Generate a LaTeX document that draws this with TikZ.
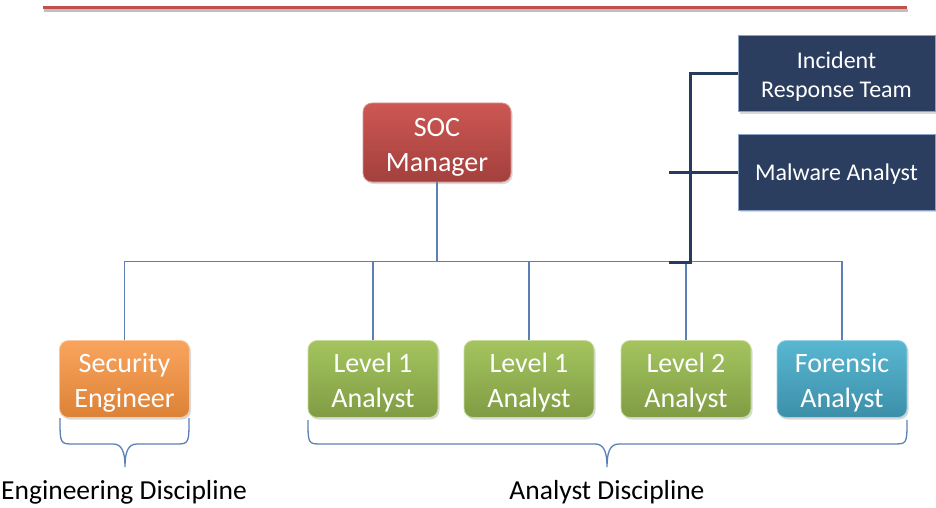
\documentclass[tikz,border=0pt]{standalone}
\usepackage{fontspec}
\setmainfont{Carlito}
\usetikzlibrary{shadows}
\definecolor{socred}{HTML}{C0504D}
\definecolor{socredT}{HTML}{CD5753}
\definecolor{socredB}{HTML}{A3403D}
\definecolor{orT}{HTML}{F9A45E}
\definecolor{orB}{HTML}{DC8236}
\definecolor{grT}{HTML}{A5C45F}
\definecolor{grB}{HTML}{7F9C44}
\definecolor{blT}{HTML}{58B7D2}
\definecolor{blB}{HTML}{3D8FA8}
\definecolor{navy}{HTML}{2C3E5F}
\definecolor{navyedge}{HTML}{8AA2C8}
\definecolor{conn}{HTML}{5A80B5}
\definecolor{darkconn}{HTML}{243C5E}
\tikzset{
  box/.style={rectangle, rounded corners=9pt, minimum width=130pt, minimum height=77pt,
    inner sep=0pt, line width=0.8pt,
    drop shadow={opacity=0.3, shadow xshift=1.5pt, shadow yshift=-2pt}},
  bt/.style={text=white, align=center, font=\fontsize{28}{35}\selectfont,
    inner sep=0pt, yshift=-3.5pt},
  nt/.style={text=white, align=center, font=\fontsize{24}{29}\selectfont,
    inner sep=0pt, yshift=-3pt},
  socbox/.style={box, top color=socredT, bottom color=socredB, draw=socred!60!white,
    minimum width=148pt, minimum height=79pt},
  orbox/.style={box, top color=orT, bottom color=orB, draw=orT!60!white},
  grbox/.style={box, top color=grT, bottom color=grB, draw=grT!60!white},
  blbox/.style={box, top color=blT, bottom color=blB, draw=blT!60!white},
  navybox/.style={rectangle, fill=navy, draw=navyedge, line width=1pt,
    minimum width=197pt, minimum height=76pt, inner sep=0pt,
    drop shadow={opacity=0.3, shadow xshift=1.5pt, shadow yshift=-2pt}},
  connline/.style={draw=conn, line width=1.3pt},
  darkline/.style={draw=darkconn, line width=3pt},
  bracestyle/.style={draw=conn, line width=1.3pt},
  disc/.style={font=\fontsize{27.5}{30}\selectfont, text=black, inner sep=0pt}
}
\begin{document}
\begin{tikzpicture}[x=1pt,y=-1pt]
\useasboundingbox (0,0) rectangle (936,508);
% top rule
\draw[line width=2.5pt, color=black!25] (44,10.5) -- (908,10.5);
\draw[line width=3pt, color=socred] (43,8) -- (907,8);

% boxes
\node[socbox, label={[bt, yshift=-1.5pt]center:SOC\\Manager}] (soc) at (437,142.5) {};
\node[orbox, label={[bt]center:Security\\Engineer}] (se) at (124.5,379) {};
\node[grbox, label={[bt]center:Level 1\\Analyst}] (l1a) at (373,379) {};
\node[grbox, label={[bt]center:Level 1\\Analyst}] (l1b) at (529,379) {};
\node[grbox, label={[bt]center:Level 2\\Analyst}] (l2) at (686,379) {};
\node[blbox, label={[bt]center:Forensic\\Analyst}] (fa) at (842,379) {};
\node[navybox, label={[nt]center:Incident\\Response Team}] (irt) at (836.5,74) {};
\node[navybox, label={[nt, yshift=1pt]center:Malware Analyst}] (mw) at (836.5,172) {};

% bus connectors
\coordinate (bus) at (437,261.5);
\draw[connline] (soc.south) -- (bus);
\draw[connline] (se.north) -- (se.north |- bus) -- (fa.north |- bus) -- (fa.north);
\draw[connline] (l1a.north) -- (l1a.north |- bus);
\draw[connline] (l1b.north) -- (l1b.north |- bus);
\draw[connline] (l2.north) -- (l2.north |- bus);

% dark connectors
\coordinate (jb) at (669,262);
\coordinate (jv) at (690.5,262);
\coordinate (mb) at (669,172);
\draw[darkline] (jb) -- (jv) |- (irt.west);
\draw[darkline] (mb) -- (mw.west);

% braces
\draw[bracestyle] (60,418) .. controls (60,444) .. (74,444) -- (113,444)
  .. controls (122,444) and (125,452) .. (125,467)
  .. controls (125,452) and (128,444) .. (137,444) -- (175,444)
  .. controls (189,444) .. (189,418);
\draw[bracestyle] (308,420) .. controls (308,444) .. (322,444) -- (595,444)
  .. controls (604,444) and (607,452) .. (607,467)
  .. controls (607,452) and (610,444) .. (619,444) -- (893,444)
  .. controls (907,444) .. (907,420);

% labels
\node[disc] (eng) at (124,492) {Engineering Discipline};
\node[disc] (ana) at (607,492) {Analyst Discipline};
\end{tikzpicture}
\end{document}
